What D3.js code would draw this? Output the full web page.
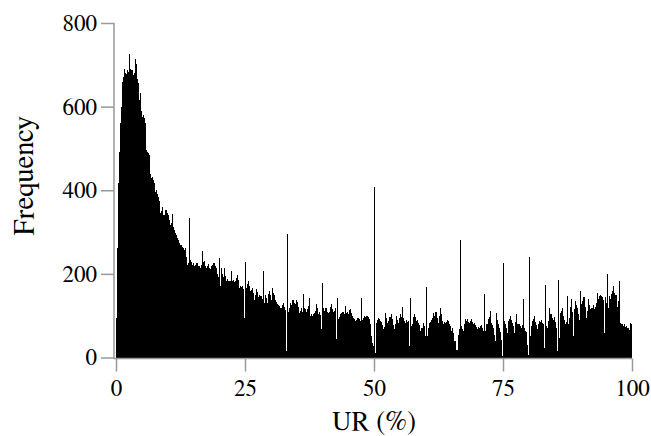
<!DOCTYPE html>
<html>
<head>
<meta charset="utf-8">
<script src="https://cdn.jsdelivr.net/npm/d3@7"></script>
<style>
  html, body { margin: 0; padding: 0; background: #fff; }
  svg { display: block; }
</style>
</head>
<body>
<svg id="chart" width="651" height="436"></svg>
<script>
// Histogram of UR (%) : 500 bins of width 0.2 %
const binWidth = 0.2;
const frequency = [
  95, 262, 418, 492, 560, 600, 659, 672, 691, 680,
  679, 688, 683, 725, 690, 687, 675, 680, 715, 703,
  665, 656, 615, 632, 590, 576, 580, 572, 560, 496,
  492, 489, 485, 440, 429, 432, 425, 418, 397, 400,
  392, 385, 375, 345, 350, 361, 340, 352, 353, 345,
  341, 330, 317, 322, 343, 313, 305, 298, 292, 286,
  280, 274, 268, 270, 265, 262, 258, 262, 240, 222,
  225, 334, 234, 228, 222, 226, 218, 222, 225, 220,
  218, 215, 222, 255, 228, 230, 218, 214, 220, 224,
  214, 212, 218, 222, 227, 225, 220, 213, 200, 193,
  238, 170, 213, 200, 193, 213, 195, 184, 188, 184,
  184, 206, 182, 186, 180, 182, 190, 198, 185, 167,
  170, 168, 172, 165, 95, 228, 167, 175, 182, 170,
  158, 162, 167, 155, 138, 150, 163, 156, 145, 150,
  148, 140, 208, 131, 149, 142, 131, 153, 158, 150,
  138, 167, 155, 149, 138, 133, 127, 125, 122, 118,
  118, 125, 131, 120, 114, 15, 295, 110, 118, 131,
  126, 138, 131, 128, 138, 132, 120, 107, 112, 118,
  110, 152, 118, 115, 110, 116, 122, 142, 99, 104,
  99, 104, 107, 112, 127, 118, 105, 110, 102, 67,
  178, 118, 112, 118, 110, 106, 110, 120, 127, 115,
  108, 112, 118, 45, 142, 91, 98, 104, 107, 110,
  108, 105, 124, 107, 110, 103, 114, 115, 106, 99,
  95, 92, 87, 90, 95, 92, 88, 142, 90, 95,
  99, 96, 100, 99, 97, 92, 80, 51, 35, 27,
  407, 11, 83, 90, 95, 92, 87, 84, 78, 67,
  72, 107, 95, 83, 88, 96, 103, 92, 78, 67,
  80, 99, 90, 83, 95, 103, 98, 120, 95, 88,
  83, 90, 85, 88, 27, 142, 75, 80, 98, 105,
  96, 87, 90, 83, 78, 63, 70, 82, 75, 51,
  169, 51, 70, 83, 86, 89, 95, 107, 100, 110,
  110, 95, 83, 100, 119, 105, 88, 79, 85, 83,
  86, 90, 87, 80, 75, 63, 70, 58, 40, 19,
  19, 55, 68, 281, 75, 68, 63, 80, 91, 88,
  91, 86, 83, 88, 91, 85, 80, 83, 78, 72,
  67, 72, 70, 75, 78, 71, 63, 152, 63, 79,
  91, 98, 112, 83, 78, 71, 55, 39, 107, 90,
  79, 70, 60, 43, 3, 227, 87, 80, 70, 59,
  87, 92, 99, 90, 83, 75, 59, 85, 103, 79,
  79, 75, 71, 78, 140, 70, 63, 60, 30, 7,
  241, 51, 75, 87, 92, 99, 85, 78, 67, 80,
  87, 85, 90, 83, 80, 23, 173, 75, 71, 88,
  119, 105, 95, 90, 98, 85, 70, 15, 185, 47,
  107, 112, 119, 100, 90, 79, 85, 147, 79, 95,
  120, 140, 110, 51, 115, 134, 125, 118, 105, 90,
  160, 127, 135, 145, 120, 95, 112, 140, 125, 115,
  118, 119, 125, 115, 120, 130, 155, 140, 148, 150,
  148, 145, 138, 59, 145, 130, 199, 119, 148, 140,
  152, 160, 171, 155, 150, 120, 135, 183, 83, 80,
  79, 76, 80, 72, 75, 70, 71, 65, 83, 80
];
const xTicks = [0, 25, 50, 75, 100];
const yTicks = [0, 200, 400, 600, 800];
const xTitle = "UR (%)";
const yTitle = "Frequency";

const FONT = "FreeSerif, 'Liberation Serif', serif";
const svg = d3.select("#chart");
const x = d3.scaleLinear().domain([0, 100]).range([116, 632]);
const y = d3.scaleLinear().domain([0, 800]).range([357.5, 23]);
const axisColor = "#999";

// bars
svg.append("g")
  .attr("shape-rendering", "crispEdges")
  .selectAll("rect")
  .data(frequency)
  .join("rect")
  .attr("x", (d, i) => x(i * binWidth))
  .attr("width", (d, i) => x((i + 1) * binWidth) - x(i * binWidth))
  .attr("y", d => y(d))
  .attr("height", d => y(0) - y(d))
  .attr("fill", "#000");

// y axis
const yAxis = svg.append("g")
  .attr("transform", "translate(114,0)")
  .call(d3.axisLeft(y).tickValues(yTicks).tickSize(13).tickSizeOuter(0).tickPadding(4)
    .tickFormat(d3.format("d")));
yAxis.select(".domain").remove();
yAxis.selectAll(".tick line").attr("stroke", axisColor).attr("stroke-width", 1.5);
yAxis.selectAll(".tick text").style("font-family", FONT).style("font-size", "23px").attr("fill", "#000");
svg.append("line")
  .attr("x1", 114).attr("x2", 114)
  .attr("y1", y(800)).attr("y2", 358.5)
  .attr("stroke", axisColor).attr("stroke-width", 1.5);

// x axis
const xAxis = svg.append("g")
  .attr("transform", "translate(0,358.5)")
  .call(d3.axisBottom(x).tickValues(xTicks).tickSize(13).tickSizeOuter(0).tickPadding(8)
    .tickFormat(d3.format("d")));
xAxis.select(".domain").remove();
xAxis.selectAll(".tick line").attr("stroke", axisColor).attr("stroke-width", 1.5);
xAxis.selectAll(".tick text").style("font-family", FONT).style("font-size", "23px").attr("fill", "#000");
svg.append("line")
  .attr("x1", 113.25).attr("x2", x(100))
  .attr("y1", 358.5).attr("y2", 358.5)
  .attr("stroke", axisColor).attr("stroke-width", 1.5);

// titles
svg.append("text")
  .attr("x", (x(0) + x(100)) / 2)
  .attr("y", 430)
  .attr("text-anchor", "middle")
  .style("font-family", FONT).style("font-size", "27px")
  .attr("fill", "#000")
  .text(xTitle);

svg.append("text")
  .attr("transform", "translate(33,176) rotate(-90)")
  .attr("text-anchor", "middle")
  .style("font-family", FONT).style("font-size", "29px")
  .attr("fill", "#000")
  .text(yTitle);
</script>
</body>
</html>
